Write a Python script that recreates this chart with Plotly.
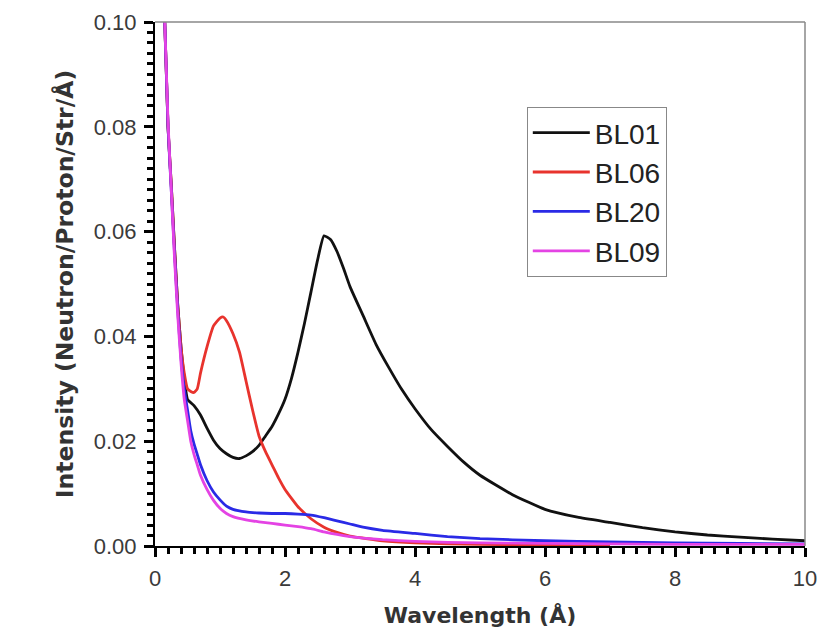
import plotly.graph_objects as go

# ---- data ----
x_bl01 = [0.15,0.2,0.25,0.3,0.35,0.4,0.45,0.5,0.6,0.7,0.8,0.9,1.0,1.1,1.2,1.3,1.4,1.5,1.6,1.7,1.8,1.9,2.0,2.1,2.2,2.3,2.4,2.5,2.6,2.7,2.8,2.9,3.0,3.2,3.4,3.6,3.8,4.0,4.25,4.5,4.75,5.0,5.5,6.0,6.5,7.0,7.5,8.0,8.5,9.0,9.5,10.0]
y_bl01 = [0.100,0.080,0.069,0.057,0.046,0.038,0.032,0.028,0.0268,0.0250,0.0225,0.0202,0.0186,0.0176,0.0169,0.0167,0.0172,0.0180,0.0192,0.0210,0.0228,0.0252,0.0280,0.0320,0.0370,0.0425,0.0485,0.0545,0.0592,0.0585,0.0562,0.0530,0.0495,0.0440,0.0385,0.0340,0.0298,0.0262,0.0222,0.0190,0.0160,0.0135,0.0098,0.0070,0.0055,0.0045,0.0035,0.0027,0.0021,0.0017,0.0013,0.0010]

x_bl06 = [0.15,0.2,0.25,0.3,0.35,0.4,0.45,0.5,0.55,0.6,0.65,0.7,0.8,0.9,1.0,1.05,1.1,1.2,1.3,1.4,1.5,1.6,1.7,1.8,1.9,2.0,2.2,2.4,2.6,2.8,3.0,3.5,4.0,5.0,6.0,7.0]
y_bl06 = [0.100,0.080,0.069,0.057,0.046,0.038,0.033,0.030,0.0295,0.0293,0.030,0.033,0.038,0.042,0.0435,0.0437,0.0430,0.0405,0.0370,0.0315,0.0260,0.0210,0.0180,0.0155,0.0130,0.0108,0.0075,0.0052,0.0036,0.0026,0.0019,0.0010,0.0006,0.0003,0.0002,0.0001]

x_bl20 = [0.15,0.2,0.25,0.3,0.35,0.4,0.45,0.5,0.55,0.6,0.65,0.7,0.8,0.9,1.0,1.1,1.2,1.4,1.6,1.8,2.0,2.2,2.4,2.6,2.8,3.0,3.2,3.5,4.0,4.5,5.0,6.0,7.0,8.0,9.0,10.0]
y_bl20 = [0.100,0.080,0.068,0.056,0.045,0.036,0.030,0.026,0.022,0.0195,0.0175,0.0155,0.0125,0.0103,0.0088,0.0076,0.0070,0.0065,0.0063,0.0062,0.0062,0.0061,0.0059,0.0054,0.0048,0.0042,0.0036,0.0030,0.0024,0.0018,0.0014,0.0010,0.0008,0.0006,0.0005,0.0004]

x_bl09 = [0.15,0.2,0.25,0.3,0.35,0.4,0.45,0.5,0.55,0.6,0.65,0.7,0.8,0.9,1.0,1.1,1.2,1.4,1.6,1.8,2.0,2.2,2.4,2.6,2.8,3.0,3.2,3.5,4.0,4.5,5.0,6.0,7.0,8.0,9.0,10.0]
y_bl09 = [0.100,0.081,0.068,0.055,0.044,0.035,0.028,0.024,0.020,0.0175,0.0155,0.0135,0.0108,0.0087,0.0072,0.0062,0.0056,0.0050,0.0046,0.0043,0.0040,0.0037,0.0033,0.0027,0.0022,0.0018,0.0015,0.0012,0.0009,0.0007,0.0006,0.0005,0.0004,0.0003,0.0003,0.0003]

series = [
    ("BL01", x_bl01, y_bl01, "#111111"),
    ("BL06", x_bl06, y_bl06, "#e8332d"),
    ("BL20", x_bl20, y_bl20, "#2a2ae6"),
    ("BL09", x_bl09, y_bl09, "#e443e4"),
]

FONT = "Liberation Sans, Arial, sans-serif"
TITLE_FONT = "DejaVu Sans, sans-serif"

fig = go.Figure()
for name, xs, ys, col in series:
    fig.add_trace(go.Scatter(
        x=xs, y=ys, mode="lines", name=name, legendgroup=name,
        line=dict(color=col, width=2.8, shape="spline", smoothing=0.45),
    ))

axis_common = dict(
    showgrid=False, zeroline=False, showline=True, linecolor="#000000", linewidth=2,
    ticks="outside", ticklen=9, tickwidth=2.5, tickcolor="#000000",
    tickfont=dict(family=FONT, size=22, color="#3a3a3a"),
    tickmode="linear", ticklabelstandoff=3, automargin=False,
)

fig.update_xaxes(
    range=[0, 10], tick0=0, dtick=2,
    minor=dict(dtick=0.2, ticks="outside", ticklen=6, tickwidth=2.5, tickcolor="#000000"),
    title=dict(text="<b>Wavelength (Å)</b>", font=dict(family=TITLE_FONT, size=22, color="#333333"), standoff=17),
    **axis_common,
)
fig.update_yaxes(
    range=[0, 0.1], tick0=0, dtick=0.02, tickformat=".2f",
    minor=dict(dtick=0.002, ticks="outside", ticklen=6, tickwidth=2.5, tickcolor="#000000"),
    title=dict(text="<b>Intensity (Neutron/Proton/Str/Å)</b>", font=dict(family=TITLE_FONT, size=23.5, color="#333333"), standoff=14),
    **axis_common,
)

# thin grey top and right frame lines
fig.add_shape(type="line", xref="paper", yref="paper", x0=0, x1=1, y0=1, y1=1,
              line=dict(color="#888888", width=1.5))
fig.add_shape(type="line", xref="paper", yref="paper", x0=1, x1=1, y0=0, y1=1,
              line=dict(color="#888888", width=1.5))

fig.update_layout(
    width=821, height=633,
    margin=dict(l=155, r=16, t=22, b=87),
    paper_bgcolor="white", plot_bgcolor="white",
    showlegend=True,
    legend=dict(
        x=0.572, y=0.838, xanchor="left", yanchor="top",
        bordercolor="#888888", borderwidth=1, bgcolor="white",
        font=dict(family=FONT, size=28, color="#222222"),
        traceorder="grouped", tracegroupgap=0, itemwidth=57,
    ),
)

fig.write_html("out.html")
